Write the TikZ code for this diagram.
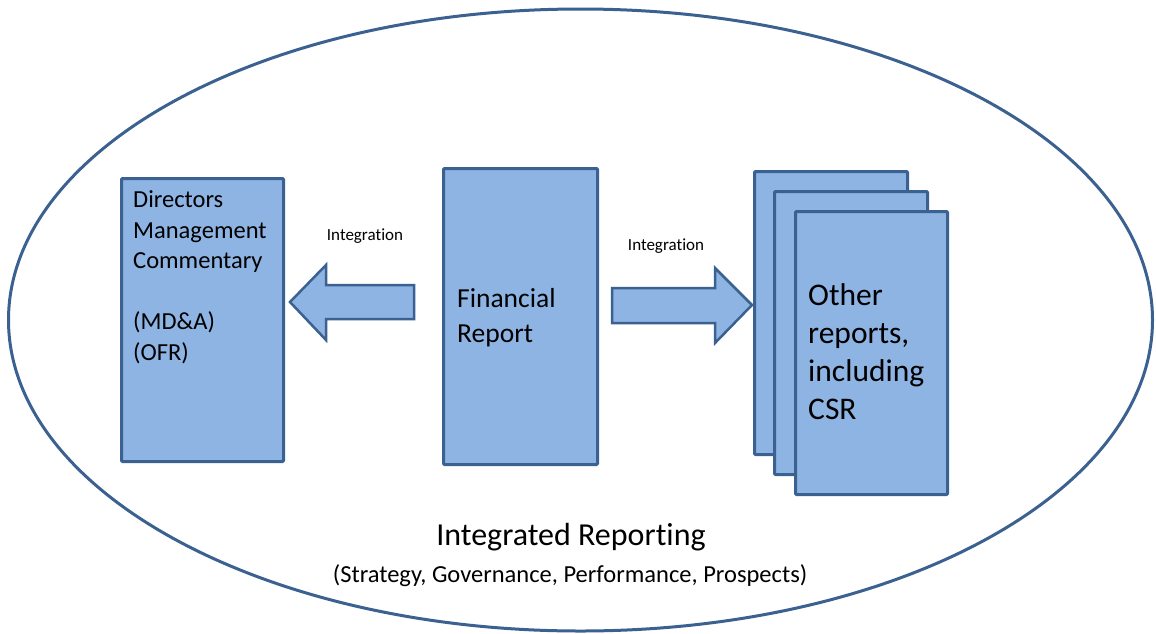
\documentclass[tikz,border=0pt]{standalone}
\usepackage{fontspec}
\setmainfont{Carlito}[Ligatures=NoCommon]
\definecolor{boxfill}{HTML}{8EB4E3}
\definecolor{boxline}{HTML}{3B6190}
\begin{document}
\begin{tikzpicture}[x=1pt,y=-1pt,
  box/.style={draw=boxline, fill=boxfill, line width=3pt, rounded corners=1pt, anchor=north west, inner sep=0pt},
  blockarrow/.style={draw=boxline, fill=boxfill, line width=2.5pt, line join=miter},
  lbl/.style={anchor=base west, inner sep=0pt, align=left},
  small/.style={font=\fontsize{17}{19}\selectfont, inner sep=0pt}]
\useasboundingbox (0,0) rectangle (1156,633);
% outer ellipse
\draw[boxline, line width=3pt] (580.5,320) ellipse [x radius=572, y radius=311];
% left box
\node[box, minimum width=162pt, minimum height=283pt] (dmc) at (120,177) {};
\node[lbl, font=\fontsize{24.5}{30.5}\selectfont] (dmctext) at (133,360)
  {Directors\\Management\\Commentary\\[30.5pt](MD\&A)\\(OFR)};
% financial box
\node[box, minimum width=154pt, minimum height=296pt] (fin) at (442,167) {};
\node[lbl, font=\fontsize{27.5}{35}\selectfont] (fintext) at (457,342) {Financial\\Report};
% stacked boxes
\node[box, minimum width=153pt, minimum height=283pt] (oth3) at (753,170) {};
\node[box, minimum width=153pt, minimum height=283pt] (oth2) at (773,190) {};
\node[box, minimum width=152pt, minimum height=283pt] (oth1) at (794,210) {};
\node[lbl, font=\fontsize{31.5}{37.7}\selectfont] (othtext) at (808,419) {Other\\reports,\\including\\CSR};
% left block arrow
\coordinate (lt) at (290,302);
\draw[blockarrow] (lt) -- (326,265) -- (326,285) -- (414,285) -- (414,319) -- (326,319) -- (326,340) -- cycle;
\node[small] (int1) at (365,236) {Integration};
% right block arrow
\coordinate (rt) at (752,305);
\draw[blockarrow] (rt) -- (715,268) -- (715,288) -- (612,288) -- (612,323) -- (715,323) -- (715,343) -- cycle;
\node[small] (int2) at (666,246) {Integration};
% bottom titles
\node[font=\fontsize{32}{36}\selectfont, inner sep=0pt, anchor=base] (ir) at (571,545) {Integrated Reporting};
\node[font=\fontsize{24.5}{28}\selectfont, inner sep=0pt, anchor=base] (irsub) at (570,582) {(Strategy, Governance, Performance, Prospects)};
\end{tikzpicture}
\end{document}
